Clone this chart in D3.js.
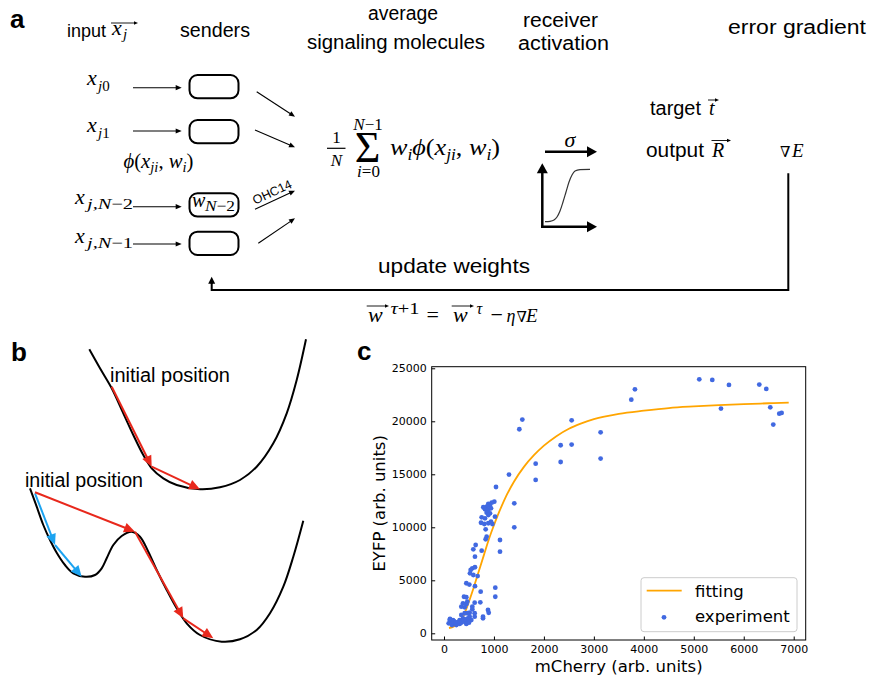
<!DOCTYPE html>
<html><head><meta charset="utf-8">
<script src="https://cdn.jsdelivr.net/npm/d3@7"></script>
<style>html,body{margin:0;padding:0;background:#fff}svg{display:block}</style>
</head><body>
<script>
// ---------------- DATA (panel c) ----------------
const xTicks = [0,1000,2000,3000,4000,5000,6000,7000];
const yTicks = [0,5000,10000,15000,20000,25000];
const fitX = [100,200,300,400,500,600,700,800,900,1000,1100,1200,1400,1600,1800,2000,2250,2500,2750,3000,3500,4000,4500,5000,5500,6000,6500,6900];
const fitY = [500,650,1000,1750,3000,4400,5900,7400,8900,10200,11400,12500,14300,15700,16800,17700,18600,19300,19800,20200,20700,21000,21250,21400,21520,21620,21700,21760];
const expX = [5110,5370,5704,5544,6311,6451,6531,6591,6711,6758,3749,3822,3135,3135,2555,2555,2335,2335,1835,1835,
  1568,1508,1301,1407,1407,1041,1121,1121,1027,1027,
  1007,955,887,921,854,787,821,887,941,921,854,887,1021,754,821,741,807,887,941,968,834,854,834,634,587,754,620,567,620,534,520,587,674,
  447,507,620,734,400,447,380,447,467,614,727,347,414,567,567,881,895,781,781,614,614,514,514,467,414,347,380,314,547,480,414,447,280,214,147,114,94,160,247,314,347,180,
  120,200,253,380,500,430,300,150,230,480];
const expY = [23960,23900,23430,21200,23460,23050,21320,19690,20720,20790,22040,23020,18960,16480,20090,17800,17740,16160,16000,14470,
  20160,19250,14970,12260,10000,13800,8800,7700,4300,3450,
  12420,12320,12200,12010,11940,11890,11700,11630,11790,11320,11380,11160,11000,10940,10850,10430,10310,10380,10530,10310,9810,9110,8870,8330,7920,7790,7230,6130,6230,5970,5660,5500,5400,
  4720,4600,4450,3930,3450,3400,2830,2740,2980,2890,2920,2510,2450,2510,2260,2200,1940,1570,1410,1890,1570,1940,1570,1890,1890,1730,1410,1250,1250,1090,1090,880,1000,940,1090,1250,940,780,780,880,1000,1250,
  1350,1150,900,1150,1000,1300,1100,900,1050,1400];
const legendLabels = ["fitting","experiment"];
const xLabel = "mCherry (arb. units)";
const yLabel = "EYFP (arb. units)";

// ---------------- DATA (panel b: schematic landscapes) ----------------
const topLandX = [89.3,100,111.7,123.3,133.3,143.3,151.7,163.3,176.7,200,220,240,256.7,273.3,286.7,296.7,306];
const topLandY = [349.3,368.3,388.3,413.3,435,455,468.3,478.3,485,489.3,487.3,480,466.7,443.3,413.3,380,339.3];
const botLandX = [30,36.7,43.3,50,56.7,65,73.3,85,95,101.7,106.7,113.3,121.7,131.7,140,148.3,156.7,166.7,176.7,186.7,200,221.7,240,256.7,270,283.3,293.3,303.3];
const botLandY = [488.3,506.7,525,540,552.7,565,573.3,576.7,575,568.3,558.3,545,536,531.7,536.7,551.7,570,590,608.3,623.3,635,641.7,639.3,630,613.3,586.7,556.7,520.7];
const redTopX = [111.7,151.7,200], redTopY = [386.7,466.7,489.3];
const redBotX = [35,135,183.3,213.3], redBotY = [492.3,531.7,618.3,638.3];
const blueX = [35,55,81.7], blueY = [493.3,545,576.7];

const W = 870, H = 678;
const SANS = "'Liberation Sans', Arial, Helvetica, sans-serif";
const SERIF = "'Liberation Serif', 'Times New Roman', 'DejaVu Serif', serif";
const DV = "'DejaVu Sans', sans-serif";
const RED = "#e8281c", BLUE = "#1ca3f0";

const svg = d3.select("body").append("svg").attr("width",W).attr("height",H);
svg.append("rect").attr("width",W).attr("height",H).attr("fill","#fff");

function txt(g,s,x,y,o={}){
  const t=g.append("text").attr("x",x).attr("y",y).attr("font-family",o.f||SANS)
    .attr("font-size",o.s||20).attr("fill","#000").style("white-space","pre").text(s);
  if(o.it) t.attr("font-style","italic");
  if(o.b) t.attr("font-weight","bold");
  if(o.a) t.attr("text-anchor",o.a);
  if(o.w) t.attr("textLength",o.w).attr("lengthAdjust","spacingAndGlyphs");
  return t;
}
function rich(g,x,y,size,parts,o={}){
  const t=g.append("text").attr("x",x).attr("y",y).attr("font-family",o.f||SERIF)
    .attr("font-size",size).attr("fill","#000").style("white-space","pre");
  if(o.a) t.attr("text-anchor",o.a);
  let cur=0;
  for(const p of parts){
    const [s,it,sz,off]=p;
    const ts=t.append("tspan").text(s);
    if(it) ts.attr("font-style","italic");
    if(sz) ts.attr("font-size",sz);
    const d=(off||0)-cur; if(d) ts.attr("dy",d); cur=off||0;
  }
  if(o.w) t.attr("textLength",o.w).attr("lengthAdjust","spacingAndGlyphs");
  return t;
}
function arrow(g,x1,y1,x2,y2,o={}){
  const w=o.w||1.2, head=o.head||6, hw=o.hw||2.5, c=o.c||"#000";
  const dx=x2-x1, dy=y2-y1, L=Math.hypot(dx,dy), ux=dx/L, uy=dy/L;
  const bx=x2-ux*head, by=y2-uy*head;
  g.append("line").attr("x1",x1).attr("y1",y1).attr("x2",bx+ux*1).attr("y2",by+uy*1)
    .attr("stroke",c).attr("stroke-width",w).attr("stroke-linecap",o.cap||"butt");
  g.append("path").attr("d",`M${x2},${y2}L${bx-uy*hw},${by+ux*hw}L${bx+uy*hw},${by-ux*hw}Z`).attr("fill",c);
}
function vec(g,x1,x2,y){ arrow(g,x1,y,x2,y,{w:0.9,head:4,hw:1.8}); }

// ================= PANEL A =================
const A = svg.append("g");
txt(A,"a",10,28,{s:26,b:1});
txt(A,"input",67,37,{s:19,w:39});
rich(A,112,35,22,[["x",1]]); rich(A,123,38.5,15,[["j",1]]); vec(A,111,138,23);
txt(A,"senders",180,37,{w:70});
txt(A,"average",368,19.5,{w:70});
txt(A,"signaling molecules",307,49,{w:178});
txt(A,"receiver",523,27,{w:75});
txt(A,"activation",518,50,{w:91});
txt(A,"error gradient",728,34,{w:138});

// input labels
rich(A,87,85,22,[["x",1]]); rich(A,98,91,15,[["j",1],["0"]]);
rich(A,87,131.5,22,[["x",1]]); rich(A,98,137.5,15,[["j",1],["1"]]);
rich(A,75,204,22,[["x",1]]); rich(A,87,209,15,[["j,N",1],["−2"]],{w:46});
rich(A,75,243,22,[["x",1]]); rich(A,87,248,15,[["j,N",1],["−1"]],{w:46});
rich(A,123.5,168.3,20,[["ϕ",1],["("],["x",1],["ji",1,14,4],[", ",0,20,0],["w",1],["i",1,14,4],[")",0,20,0]],{w:70});

// senders boxes
const boxY=[75,120,193.3,231.7];
boxY.forEach(y=>A.append("rect").attr("x",189.5).attr("y",y).attr("width",49).attr("height",23.3)
  .attr("rx",8).attr("fill","none").attr("stroke","#000").attr("stroke-width",2));
rich(A,192,206.5,20,[["w",1]]); rich(A,205,211,15,[["N",1],["−2"]],{w:30});
// input arrows
[87.7,131,206.7,244].forEach(y=>arrow(A,133,y,181.7,y,{w:1.1,head:6,hw:2.6}));
// sender->sum arrows
[[256.7,91.7,295,116.7],[255,130,295,147.3],[255,209.3,295,190.7],[258.3,243.3,295,218.3]]
  .forEach(d=>arrow(A,d[0],d[1],d[2],d[3],{w:1.1,head:6,hw:2.6}));
A.append("text").attr("transform","translate(274,196) rotate(-25)").attr("text-anchor","middle")
  .attr("font-family",SANS).attr("font-size",12.5).text("OHC14");

// sum formula
rich(A,336.5,143,17,[["1"]],{a:"middle"});
A.append("line").attr("x1",327).attr("x2",345.5).attr("y1",148.3).attr("y2",148.3).attr("stroke","#000").attr("stroke-width",1.2);
rich(A,336.5,165.5,17,[["N",1]],{a:"middle"});
rich(A,367.5,161.7,44,[["Σ"]],{a:"middle"});
rich(A,368,129.5,17,[["N",1],["−1"]],{a:"middle"});
rich(A,368.5,177,17,[["i",1],["=0"]],{a:"middle"});
rich(A,390,155,24,[["w",1],["i",1,16,5],["ϕ",1,24,0],["("],["x",1],["ji",1,16,5],[", ",0,24,0],["w",1],["i",1,16,5],[")",0,24,0]],{w:110});

// receiver activation schematic
rich(A,570,147,22,[["σ",1]],{a:"middle"});
arrow(A,545,151.7,597,151.7,{w:2.5,head:10,hw:5.5});
arrow(A,542.3,226.7,542.3,163.3,{w:2.5,head:10,hw:5.5,cap:"square"});
arrow(A,542.3,226.7,597,226.7,{w:2.5,head:10,hw:5.5,cap:"square"});
const sigPts=[[545,221.7],[550,221.3],[554,220],[557,217],[560,211],[563,202],[566,192],[569,182],[572,175],[575,171],[580,169.6],[590,169.3]];
A.append("path").attr("d",d3.line().curve(d3.curveMonotoneX)(sigPts)).attr("fill","none").attr("stroke","#333").attr("stroke-width",1.2);

// target/output/error
txt(A,"target",650,115,{w:51});
rich(A,709,115,20,[["t",1]]); vec(A,708,719,100);
txt(A,"output",646,157,{w:58});
rich(A,712,157,20,[["R",1]]); vec(A,711.5,731,140.5);
rich(A,780,157,15,[["∇"]]); rich(A,792,157,19,[["E",1]]);

// feedback loop
A.append("path").attr("d","M788.3,173.3V290H211.7V283").attr("fill","none").attr("stroke","#000").attr("stroke-width",2);
arrow(A,211.7,284,211.7,276.7,{w:2,head:7,hw:3.5});
txt(A,"update weights",378,273.3,{s:21,w:152});
rich(A,368,321.7,22,[["w",1]]); vec(A,366.7,389,306);
rich(A,390.5,314,16,[["τ",1],["+1"]],{w:29});
rich(A,426.5,321.7,22,[["="]]);
rich(A,453,321.7,22,[["w",1]]); vec(A,451.7,474,306);
rich(A,476.5,314,16,[["τ",1]]);
rich(A,490.5,321.7,22,[["−"]]);
rich(A,506.5,321.7,18,[["η",1]]);
rich(A,516.5,321.7,15,[["∇"]]);
rich(A,526,321.7,19,[["E",1]]);

// ================= PANEL B =================
const B = svg.append("g");
txt(B,"b",11,361,{s:26,b:1});
const bx = d3.scaleLinear().domain([0,310]).range([0,310]);
const by = d3.scaleLinear().domain([330,678]).range([330,678]);
const landLine = d3.line().x(d=>bx(d[0])).y(d=>by(d[1])).curve(d3.curveCatmullRom.alpha(0.5));
B.append("path").attr("d",landLine(topLandX.map((x,i)=>[x,topLandY[i]]))).attr("fill","none").attr("stroke","#000").attr("stroke-width",2);
B.append("path").attr("d",landLine(botLandX.map((x,i)=>[x,botLandY[i]]))).attr("fill","none").attr("stroke","#000").attr("stroke-width",2);
function chain(xs,ys,c){
  for(let i=0;i<xs.length-1;i++) arrow(B,bx(xs[i]),by(ys[i]),bx(xs[i+1]),by(ys[i+1]),{w:2,head:11,hw:5,c});
}
chain(redTopX,redTopY,RED);
chain(blueX,blueY,BLUE);
chain(redBotX,redBotY,RED);
txt(B,"initial position",110,381.7,{s:20,w:120});
txt(B,"initial position",25,486.7,{s:20,w:118});

// ================= PANEL C =================
const C = svg.append("g");
txt(C,"c",357,360,{s:26,b:1});
const L=431.7,R=805.7,T=366.7,Bt=640;
const xS = d3.scaleLinear().domain([-246,7240]).range([L,R]);
const yS = d3.scaleLinear().domain([-632,25150]).range([Bt,T]);

const gx = C.append("g").attr("transform",`translate(0,${Bt})`)
  .call(d3.axisBottom(xS).tickValues(xTicks).tickFormat(d3.format("d")).tickSize(-3.5).tickPadding(5));
const gy = C.append("g").attr("transform",`translate(${L},0)`)
  .call(d3.axisLeft(yS).tickValues(yTicks).tickFormat(d3.format("d")).tickSize(-3.5).tickPadding(5));
[gx,gy].forEach(g=>{
  g.select(".domain").remove();
  g.attr("font-family",DV).attr("font-size",11);
  g.selectAll(".tick line").attr("stroke","#000").attr("stroke-width",1);
  g.selectAll(".tick text").attr("fill","#000");
});

C.append("path").datum(fitX.map((x,i)=>[x,fitY[i]]))
  .attr("d",d3.line().x(d=>xS(d[0])).y(d=>yS(d[1])).curve(d3.curveMonotoneX))
  .attr("fill","none").attr("stroke","#ffa500").attr("stroke-width",1.8);
C.append("g").selectAll("circle").data(expX.map((x,i)=>[x,expY[i]])).join("circle")
  .attr("cx",d=>xS(d[0])).attr("cy",d=>yS(d[1])).attr("r",2.4).attr("fill","#4169e1");

C.append("rect").attr("x",L).attr("y",T).attr("width",R-L).attr("height",Bt-T)
  .attr("fill","none").attr("stroke","#000").attr("stroke-width",1);

// legend
C.append("rect").attr("x",641).attr("y",577.7).attr("width",156).attr("height",54).attr("rx",3)
  .attr("fill","#fff").attr("fill-opacity",0.8).attr("stroke","#cccccc").attr("stroke-width",1);
C.append("line").attr("x1",646.7).attr("x2",681.7).attr("y1",590.7).attr("y2",590.7).attr("stroke","#ffa500").attr("stroke-width",1.8);
C.append("circle").attr("cx",664).attr("cy",617.3).attr("r",2.4).attr("fill","#4169e1");
txt(C,legendLabels[0],695,597,{f:DV,s:16.5});
txt(C,legendLabels[1],695,621.7,{f:DV,s:16.5});

txt(C,xLabel,(L+R)/2,671.7,{f:DV,s:16.5,a:"middle"});
C.append("text").attr("transform",`translate(385,${(T+Bt)/2}) rotate(-90)`).attr("text-anchor","middle")
  .attr("font-family",DV).attr("font-size",16.5).text(yLabel);
</script>
</body></html>
